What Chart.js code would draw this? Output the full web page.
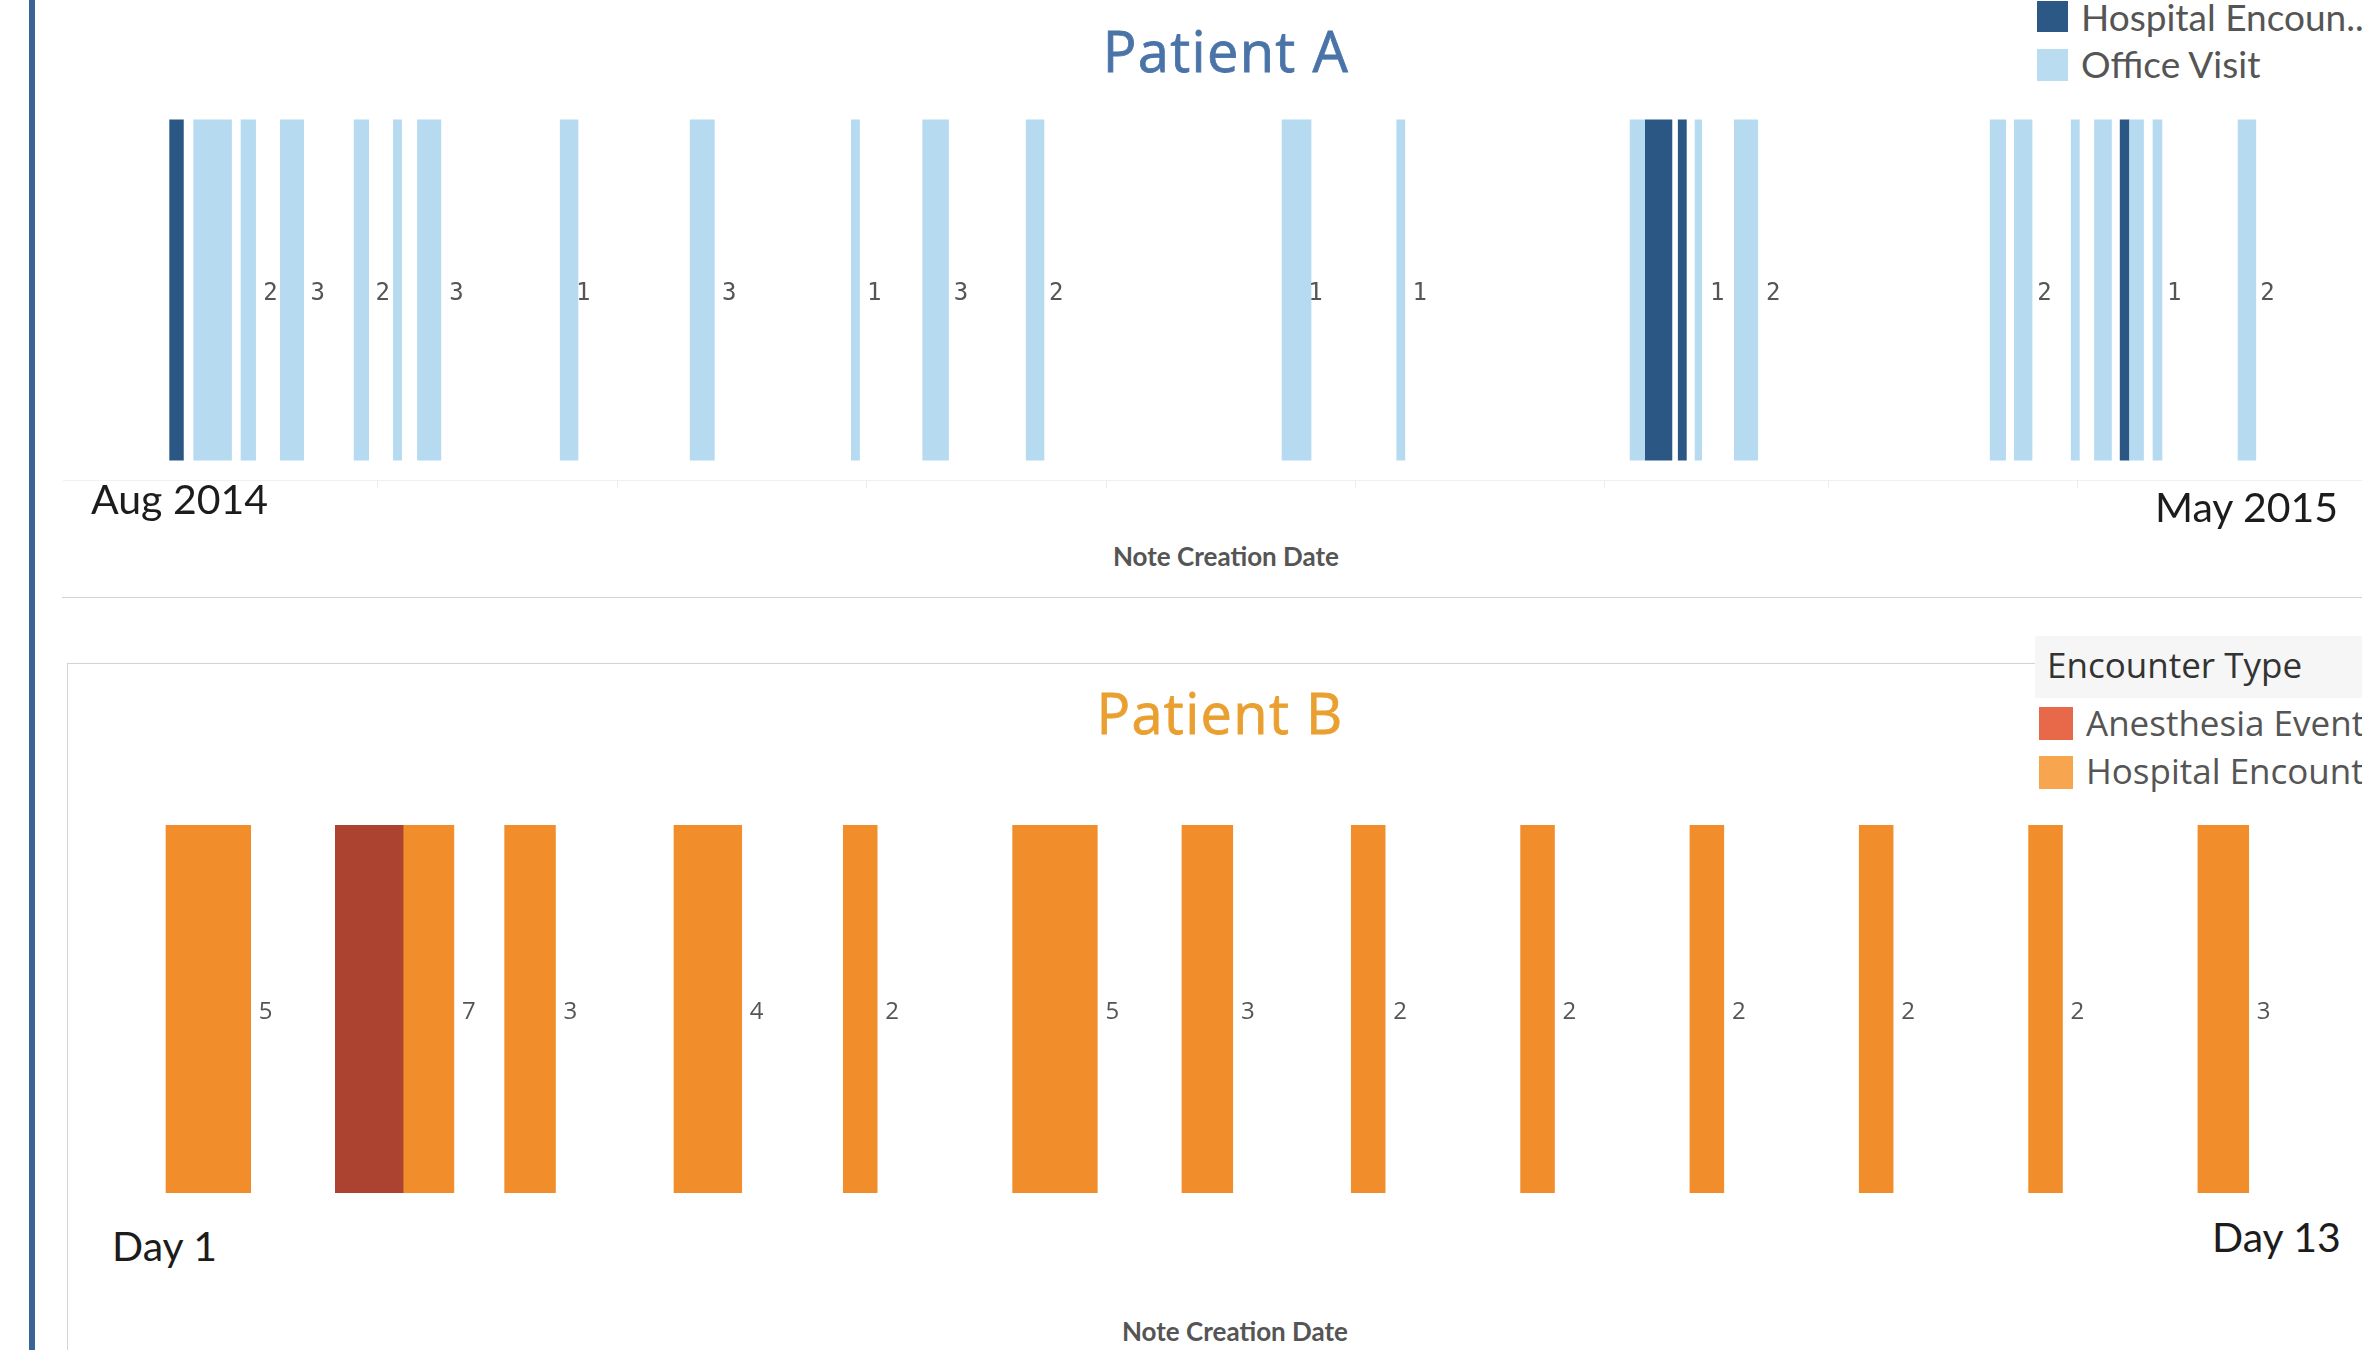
<!DOCTYPE html>
<html>
<head>
<meta charset="utf-8">
<script src="https://cdn.jsdelivr.net/npm/chart.js@4.4.1/dist/chart.umd.min.js"></script>
<style>
  html, body { margin:0; padding:0; width:2362px; height:1350px; overflow:hidden; background:#ffffff; }
  .abs { position:absolute; }
  .t { position:absolute; white-space:nowrap; line-height:1; }
  .title { font-family:"Open Sans", sans-serif; font-size:56px; font-weight:500; letter-spacing:1.3px; -webkit-text-stroke:0.8px currentColor; transform:translateX(-50%); }
  .edge { font-family:"Lato", sans-serif; font-size:41px; color:#1c1c1c; }
  .axt { font-family:"Lato", sans-serif; font-size:26px; font-weight:700; color:#555555; transform:translateX(-50%); }
  .lgA { font-family:"Lato", sans-serif; font-size:37px; color:#555555; }
  .lgB { font-family:"Open Sans", sans-serif; font-size:35px; color:#555555; }
</style>
</head>
<body>
<!-- page furniture -->
<div class="abs" style="left:29px;top:0;width:6px;height:1350px;background:#3b6496;"></div>
<div class="abs" style="left:62px;top:597px;width:2300px;height:1px;background:#d3d3d3;"></div>
<div class="abs" style="left:67px;top:663px;width:2400px;height:800px;border-left:1px solid #d3d3d3;border-top:1px solid #d3d3d3;"></div>

<!-- Patient A -->
<div class="t title" style="left:1226px;top:22px;color:#4a74a8;">Patient A</div>
<canvas id="chartA" class="abs" style="left:63px;top:100px;width:2299px;height:400px;" width="2299" height="400"></canvas>
<div class="t edge" style="left:91px;top:478px;">Aug 2014</div>
<div class="t edge" style="left:2155px;top:486px;">May 2015</div>
<div class="t axt" style="left:1226px;top:543px;">Note Creation Date</div>

<div class="abs" style="left:2037px;top:1px;width:31px;height:31px;background:#2c5886;"></div>
<div class="t lgA" style="left:2081px;top:-2px;">Hospital Encoun..</div>
<div class="abs" style="left:2037px;top:49px;width:31px;height:32px;background:#b9dcf0;"></div>
<div class="t lgA" style="left:2081px;top:45px;">Office Visit</div>

<!-- Patient B -->
<div class="t title" style="left:1220px;top:684px;color:#e9a030;">Patient B</div>
<canvas id="chartB" class="abs" style="left:67px;top:825px;width:2295px;height:368px;" width="2295" height="368"></canvas>
<div class="t edge" style="left:112px;top:1225px;">Day 1</div>
<div class="t edge" style="left:2212px;top:1216px;">Day 13</div>
<div class="t axt" style="left:1235px;top:1318px;">Note Creation Date</div>

<div class="abs" style="left:2035px;top:636px;width:327px;height:62px;background:#f6f6f6;"></div>
<div class="t lgB" style="left:2047px;top:647px;color:#333333;">Encounter Type</div>
<div class="abs" style="left:2039px;top:707px;width:34px;height:33px;background:#e8694a;"></div>
<div class="t lgB" style="left:2086px;top:705px;">Anesthesia Event</div>
<div class="abs" style="left:2039px;top:756px;width:34px;height:33px;background:#f7a54e;"></div>
<div class="t lgB" style="left:2086px;top:753px;">Hospital Encounter</div>

<script>
// ---------- DATA: Patient A (days since 1 Aug 2014, [start, end]) ----------
const hospitalEncounterA = [[5.1,6.9],[189.1,192.5],[193.2,194.3],[248.3,249.5]];
const officeVisitA = [[8.1,12.9],[14.0,15.9],[18.9,21.9],[28.1,30.0],[33.0,34.1],[36.0,39.0],
  [53.8,56.1],[70.0,73.1],[90.1,91.2],[99.0,102.3],[111.9,114.2],[143.8,147.5],[158.1,159.2],
  [187.2,189.1],[195.3,196.2],[200.2,203.2],[232.1,234.1],[235.1,237.4],[242.2,243.3],
  [245.1,247.3],[249.5,251.3],[252.4,253.6],[263.0,265.3]];
// count labels: day at which each label sits, and the label
const labelDayA  = [17.7,23.6,31.7,40.9,56.7,74.9,93.0,103.8,115.7,148.0,161.0,198.1,205.1,238.9,255.1,266.7];
const labelTextA = ['2','3','2','3','1','3','1','3','2','1','1','1','2','2','1','2'];
// month starts (Sep 2014 .. Apr 2015) as axis ticks
const monthTickDaysA = [31,61,92,122,153,184,212,243];

// ---------- DATA: Patient B ----------
const daysB       = [1,2,3,4,5,6,7,8,9,10,11,12,13];
const anesthesiaB = [0,4,0,0,0,0,0,0,0,0,0,0,0];
const hospitalB   = [5,3,3,4,2,5,3,2,2,2,2,2,3];

// ---------- helpers ----------
function countLabelPlugin(days, texts, font, color, dx, dy) {
  return {
    id: 'countLabels',
    afterDatasetsDraw(chart) {
      const { ctx, chartArea, scales } = chart;
      const y = (chartArea.top + chartArea.bottom) / 2 + dy;
      ctx.save();
      ctx.font = font;
      ctx.fillStyle = color;
      ctx.textAlign = 'center';
      ctx.textBaseline = 'middle';
      days.forEach((d, i) => ctx.fillText(texts[i], scales.x.getPixelForValue(d) + dx, y));
      ctx.restore();
    }
  };
}
const toRows = (ranges) => ranges.map(r => ({ x: r, y: 'row' }));

// ---------- Chart A ----------
new Chart(document.getElementById('chartA'), {
  type: 'bar',
  data: {
    labels: ['row'],
    datasets: [
      { label: 'Office Visit', data: toRows(officeVisitA), backgroundColor: '#b6daef' },
      { label: 'Hospital Encounter', data: toRows(hospitalEncounterA), backgroundColor: '#2b5784' }
    ]
  },
  options: {
    indexAxis: 'y',
    responsive: false,
    animation: false,
    events: [],
    layout: { padding: 0 },
    datasets: { bar: { grouped: false, barPercentage: 0.897, categoryPercentage: 1, borderWidth: 0, borderSkipped: false } },
    plugins: { legend: { display: false }, tooltip: { enabled: false } },
    scales: {
      x: {
        type: 'linear', min: -8.155, max: 278.5,
        afterBuildTicks: (s) => { s.ticks = monthTickDaysA.map(v => ({ value: v })); },
        afterFit: (s) => { s.height = 20; },
        ticks: { display: false },
        grid: { drawOnChartArea: false, color: '#ececec', tickLength: 8 },
        border: { display: true, color: '#f0f0f0' }
      },
      y: { type: 'category', display: false }
    }
  },
  plugins: [countLabelPlugin(labelDayA, labelTextA, '24px "DejaVu Sans Mono"', '#555555', 0, 4)]
});

// ---------- Chart B ----------
const NOTE_SPAN = 0.1; // each note occupies a tenth of a day along the axis
const anesthesiaRowsB = [], hospitalRowsB = [], labelDayB = [], labelTextB = [];
daysB.forEach((d, i) => {
  const s = d - 1;
  const a = anesthesiaB[i], h = hospitalB[i];
  if (a > 0) anesthesiaRowsB.push({ x: [s, s + a * NOTE_SPAN], y: 'row' });
  if (h > 0) hospitalRowsB.push({ x: [s + a * NOTE_SPAN, s + (a + h) * NOTE_SPAN], y: 'row' });
  labelDayB.push(s + (a + h) * NOTE_SPAN);
  labelTextB.push(String(a + h));
});

new Chart(document.getElementById('chartB'), {
  type: 'bar',
  data: {
    labels: ['row'],
    datasets: [
      { label: 'Anesthesia Event', data: anesthesiaRowsB, backgroundColor: '#ac4230' },
      { label: 'Hospital Encounter', data: hospitalRowsB, backgroundColor: '#f18d2b' }
    ]
  },
  options: {
    indexAxis: 'y',
    responsive: false,
    animation: false,
    events: [],
    layout: { padding: 0 },
    datasets: { bar: { grouped: false, barPercentage: 1, categoryPercentage: 1, borderWidth: 0, borderSkipped: false } },
    plugins: { legend: { display: false }, tooltip: { enabled: false } },
    scales: {
      x: { type: 'linear', min: -0.5847, max: 12.969, display: false },
      y: { type: 'category', display: false }
    }
  },
  plugins: [countLabelPlugin(labelDayB, labelTextB, '24px "Open Sans"', '#555555', 15, 3)]
});
</script>
</body>
</html>
